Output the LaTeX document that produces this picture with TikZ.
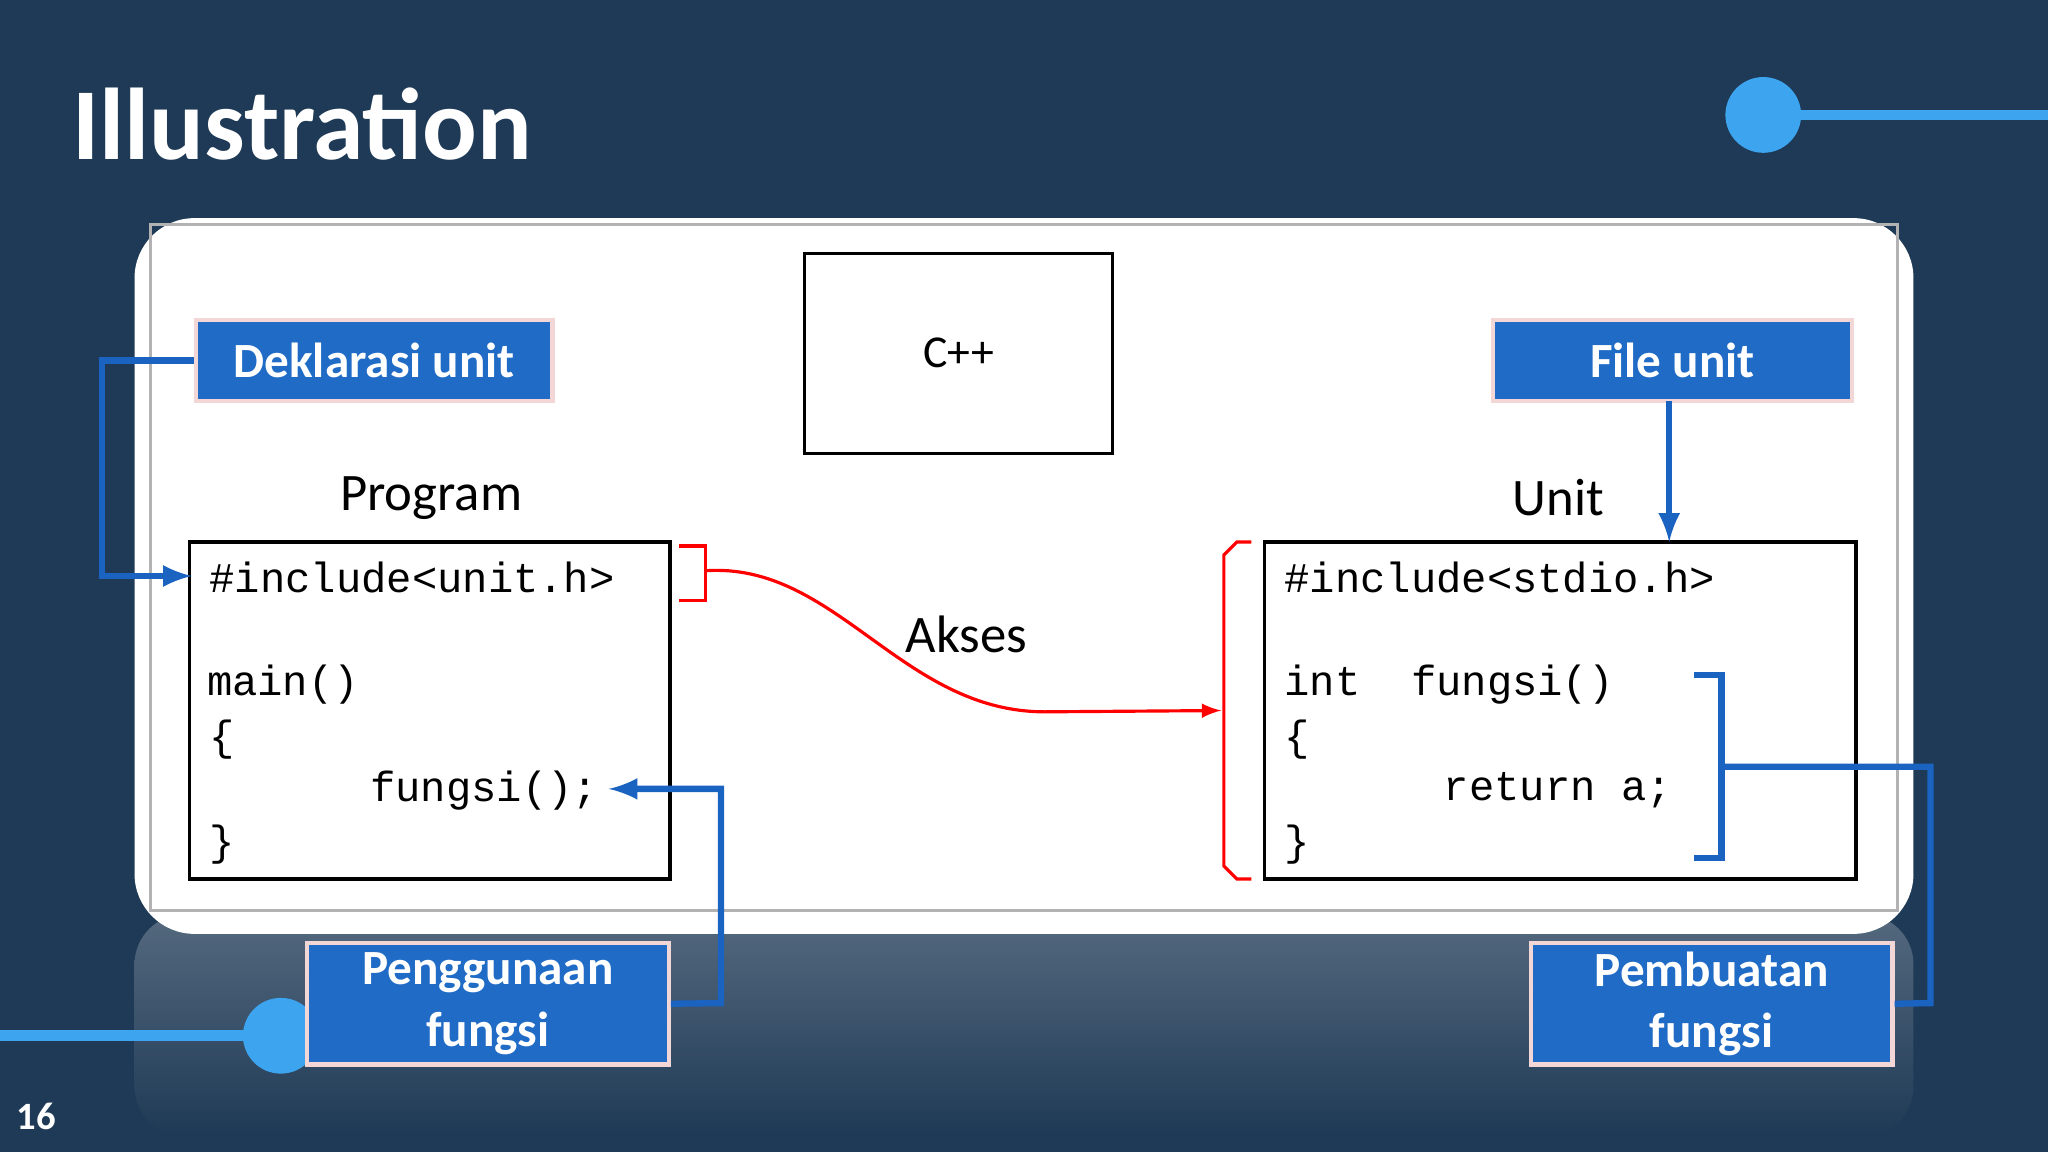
\documentclass[tikz,border=0pt]{standalone}
\usepackage{fontspec}
\setmainfont{Carlito}
\setmonofont{Liberation Mono}
\definecolor{navy}{HTML}{1F3A56}
\definecolor{lblue}{HTML}{3DA5F0}
\definecolor{bblue}{HTML}{1F6BC5}
\definecolor{pinkb}{HTML}{F3D6D6}
\definecolor{cblue}{HTML}{1B63C0}
\begin{document}
\begin{tikzpicture}[x=0.013061cm,y=-0.013061cm,
  lbl/.style={fill=bblue,draw=pinkb,line width=1.2pt,text=white,font=\bfseries\fontsize{14}{17.5}\selectfont,align=center,inner sep=0pt},
  code/.style={font=\ttfamily\fontsize{12}{13}\selectfont,anchor=west,inner sep=0pt},
  conn/.style={cblue,line width=1.8pt},
  redline/.style={draw=red,line width=0.9pt}]
\useasboundingbox (0,0) rectangle (1568,882);
\fill[navy] (0,0) rectangle (1568,882);
\shade[top color=white!30!navy,bottom color=navy,opacity=0.8,rounded corners=0.5cm] (103,700) rectangle (1465,870);
\node[text=white,font=\bfseries\fontsize{29}{30}\selectfont,anchor=west,inner sep=0pt] (title) at (55,95) {Illustration};
\draw[lblue,line width=3pt] (1350,88) -- (1568,88);
\fill[lblue] (1350,88) circle (29);
\draw[lblue,line width=3pt] (0,793) -- (215,793);
\fill[lblue] (215,793) circle (29);
\node[text=white,font=\bfseries\fontsize{11}{12}\selectfont,inner sep=0pt] (pg) at (28,855) {16};
\fill[white,rounded corners=0.6cm] (103,167) rectangle (1465,715);
\draw[gray!60,line width=0.8pt] (115,172) rectangle (1453,697);
\draw[line width=0.8pt] (616,194) rectangle (852,347);
\node[font=\fontsize{13}{14}\selectfont] (cpp) at (734,270) {C++};
\node[font=\fontsize{15}{16}\selectfont] (prog) at (330,381) {Program};
\node[font=\fontsize{15}{16}\selectfont] (unit) at (1193,381) {Unit};
\draw[line width=0.9pt] (145,415) rectangle (513,673);
\draw[line width=0.9pt] (968,415) rectangle (1421,673);
\node[code] (l1) at (160,442) {\#include<unit.h>};
\node[code] (l2) at (158,524) {main()};
\node[code] (l3) at (160,566) {\{};
\node[code] (l4) at (283,605) {fungsi();};
\node[code] (l5) at (160,647) {\}};
\node[code] (r1) at (983,442) {\#include<stdio.h>};
\node[code] (r2) at (983,524) {int\ \ fungsi()};
\node[code] (r3) at (983,566) {\{};
\node[code] (r4) at (1105,605) {return a;};
\node[code] (r5) at (983,647) {\}};
\draw[redline] (520,418) -- (540,418) -- (540,460) -- (520,460);
\draw[redline] (958,415) -- (947,415) -- (937,425) -- (937,663) -- (947,673) -- (958,673);
\coordinate (rs) at (540,437);
\coordinate (re) at (935,544);
\draw[redline,-latex] (rs) .. controls (640,430) and (690,545) .. (800,545) -- (re);
\node[font=\fontsize{15}{16}\selectfont] (akses) at (740,486) {Akses};
\node[lbl,minimum width=3.566cm,minimum height=0.81cm] (dek) at (286.5,276) {Deklarasi unit};
\node[lbl,minimum width=3.592cm,minimum height=0.81cm] (file) at (1280.5,276) {File unit};
\node[lbl,minimum width=3.618cm,minimum height=1.215cm] (peng) at (373.5,768.5) {Penggunaan\\fungsi};
\node[lbl,minimum width=3.618cm,minimum height=1.215cm] (pemb) at (1310.5,768.5) {Pembuatan\\fungsi};
\coordinate (a1) at (147,441);
\draw[conn,-latex] (dek.west) -- (78,276) -- (78,441) -- (a1);
\coordinate (a2) at (1278,415);
\draw[conn,-latex] (1278,307) -- (a2);
\coordinate (a3) at (466,604);
\draw[conn,-latex] (peng.east) -- (552,768) -- (552,604) -- (a3);
\draw[conn] (1297,517) -- (1318,517) -- (1318,657) -- (1297,657);
\draw[conn] (1318,587) -- (1478,587) -- (1478,768) -- (pemb.east);
\end{tikzpicture}
\end{document}
